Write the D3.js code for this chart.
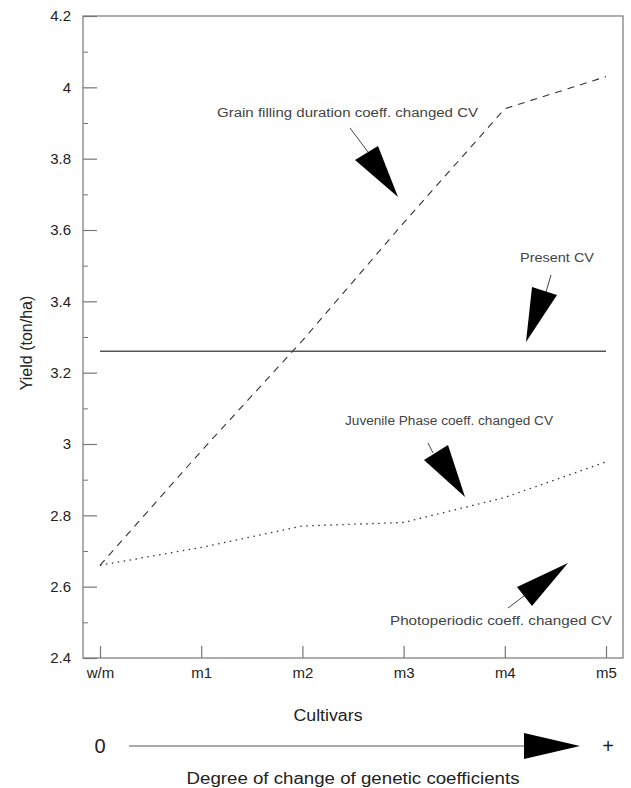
<!DOCTYPE html>
<html>
<head>
<meta charset="utf-8">
<script src="https://cdn.jsdelivr.net/npm/d3@7"></script>
<style>
  body { margin: 0; background: #fff; }
  svg { font-family: "Liberation Sans", Arial, sans-serif; }
</style>
</head>
<body>
<svg id="chart" width="631" height="788"></svg>
<script>
// data
const cultivars = ["w/m", "m1", "m2", "m3", "m4", "m5"];
const grainFilling = [2.66, 2.98, 3.29, 3.62, 3.94, 4.03];
const presentCV = [3.26, 3.26, 3.26, 3.26, 3.26, 3.26];
const juvenile = [2.66, 2.71, 2.77, 2.78, 2.85, 2.95];
const yMajor = [2.4, 2.6, 2.8, 3, 3.2, 3.4, 3.6, 3.8, 4, 4.2];
const yMinor = [2.5, 2.7, 2.9, 3.1, 3.3, 3.5, 3.7, 3.9, 4.1];

const svg = d3.select("#chart");
const plotL = 83, plotR = 623, plotT = 16, plotB = 658;

const x = d3.scalePoint().domain(cultivars).range([100, 606]);
const y = d3.scaleLinear().domain([2.4, 4.2]).range([plotB, plotT]);

// frame
svg.append("rect")
    .attr("x", plotL).attr("y", plotT)
    .attr("width", plotR - plotL).attr("height", plotB - plotT)
    .attr("fill", "none")
    .attr("stroke", "#777")
    .attr("stroke-width", 1.2);

// y axis, ticks pointing in
const yAxis = svg.append("g")
    .attr("transform", `translate(${plotL},0)`)
    .call(d3.axisLeft(y).tickValues(yMajor).tickSize(-14).tickSizeOuter(0)
        .tickPadding(12).tickFormat(d => String(+d.toFixed(1))));
yAxis.select(".domain").remove();
yAxis.selectAll("line").attr("stroke", "#777").attr("stroke-width", 1.2);
yAxis.selectAll("text").attr("font-size", 15).attr("fill", "#222")
    .attr("font-family", "Liberation Sans, Arial, sans-serif");

const yMinorAxis = svg.append("g")
    .attr("transform", `translate(${plotL},0)`)
    .call(d3.axisLeft(y).tickValues(yMinor).tickSize(-5).tickFormat(""));
yMinorAxis.select(".domain").remove();
yMinorAxis.selectAll("line").attr("stroke", "#777");

// x axis, ticks pointing up
const xAxis = svg.append("g")
    .attr("transform", `translate(0,${plotB})`)
    .call(d3.axisBottom(x).tickSize(-12).tickSizeOuter(0).tickPadding(9));
xAxis.select(".domain").remove();
xAxis.selectAll("line").attr("stroke", "#777").attr("stroke-width", 1.2);
xAxis.selectAll("text").attr("font-size", 15).attr("fill", "#222")
    .attr("font-family", "Liberation Sans, Arial, sans-serif");

// series
const line = d3.line().x((d, i) => x(cultivars[i])).y(d => y(d));

svg.append("path").datum(presentCV)
    .attr("d", line).attr("fill", "none")
    .attr("stroke", "#555").attr("stroke-width", 1.4);

svg.append("path").datum(grainFilling)
    .attr("d", line).attr("fill", "none")
    .attr("stroke", "#333").attr("stroke-width", 1.1)
    .attr("stroke-dasharray", "7,6");

svg.append("path").datum(juvenile)
    .attr("d", line).attr("fill", "none")
    .attr("stroke", "#333").attr("stroke-width", 1.3)
    .attr("stroke-dasharray", "1.5,4.5");

// annotations: label, leader line and black wedge arrow
const notes = [
  {text: "Grain filling duration coeff. changed CV", tx: 217, ty: 117, len: 261,
   lead: [[350, 128], [368, 152]], tri: [[355, 160], [378, 146], [398, 197]]},
  {text: "Present CV", tx: 520, ty: 262, len: 74,
   lead: [[551, 275], [546, 292]], tri: [[532, 287], [557, 295], [526, 342]]},
  {text: "Juvenile Phase coeff. changed CV", tx: 345, ty: 425, len: 208,
   lead: [[428, 443], [433, 453]], tri: [[424, 460], [448, 445], [465, 497]]},
  {text: "Photoperiodic coeff. changed CV", tx: 390, ty: 625, len: 222,
   lead: [[508, 608], [524, 596]], tri: [[517, 587], [532, 606], [568, 563]]}
];

const ann = svg.append("g");
notes.forEach(n => {
  ann.append("text")
      .attr("x", n.tx).attr("y", n.ty)
      .attr("font-size", 12.5)
      .attr("fill", "#444")
      .attr("textLength", n.len)
      .attr("lengthAdjust", "spacingAndGlyphs")
      .text(n.text);
  ann.append("line")
      .attr("x1", n.lead[0][0]).attr("y1", n.lead[0][1])
      .attr("x2", n.lead[1][0]).attr("y2", n.lead[1][1])
      .attr("stroke", "#444").attr("stroke-width", 1);
  ann.append("path")
      .attr("d", "M" + n.tri.join("L") + "Z")
      .attr("fill", "#000");
});

// axis titles
svg.append("text")
    .attr("transform", "translate(32,343) rotate(-90)")
    .attr("text-anchor", "middle")
    .attr("font-size", 16).attr("fill", "#222")
    .text("Yield (ton/ha)");

svg.append("text")
    .attr("x", 328).attr("y", 721)
    .attr("text-anchor", "middle")
    .attr("font-size", 16).attr("fill", "#222")
    .attr("textLength", 69).attr("lengthAdjust", "spacingAndGlyphs")
    .text("Cultivars");

// degree-of-change arrow
svg.append("text")
    .attr("x", 100).attr("y", 753)
    .attr("text-anchor", "middle")
    .attr("font-size", 20).attr("fill", "#222")
    .text("0");

svg.append("line")
    .attr("x1", 129).attr("y1", 746).attr("x2", 526).attr("y2", 746)
    .attr("stroke", "#555").attr("stroke-width", 1.2);

svg.append("path")
    .attr("d", "M524,733L580,746L524,759Z")
    .attr("fill", "#000");

svg.append("text")
    .attr("x", 608).attr("y", 753)
    .attr("text-anchor", "middle")
    .attr("font-size", 20).attr("fill", "#222")
    .text("+");

svg.append("text")
    .attr("x", 353).attr("y", 784)
    .attr("text-anchor", "middle")
    .attr("font-size", 16).attr("fill", "#222")
    .attr("textLength", 333).attr("lengthAdjust", "spacingAndGlyphs")
    .text("Degree of change of genetic coefficients");
</script>
</body>
</html>
